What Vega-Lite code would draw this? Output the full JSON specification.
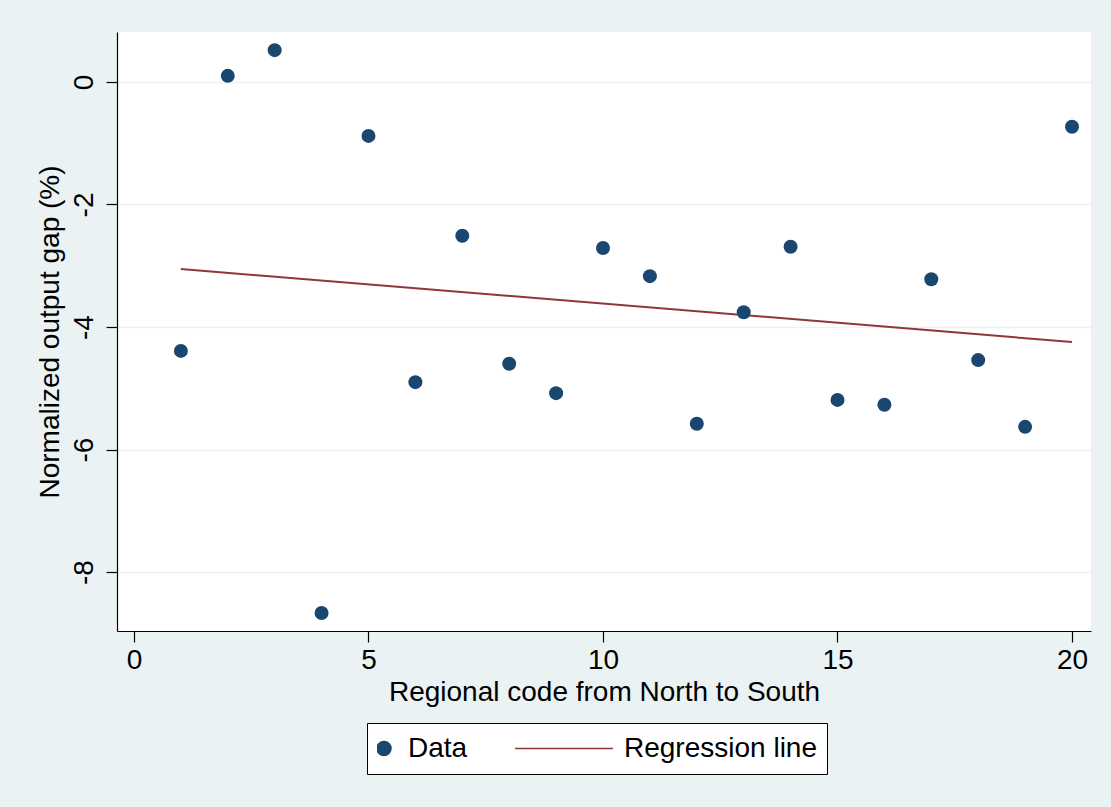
{
  "$schema": "https://vega.github.io/schema/vega-lite/v6.json",
  "width": 974,
  "height": 599,
  "autosize": {"type": "none"},
  "padding": {"left": 117, "top": 32, "right": 20, "bottom": 176},
  "background": "#EAF2F3",
  "config": {
    "view": {"fill": "white", "stroke": null},
    "font": "Liberation Sans",
    "axis": {
      "domainColor": "black",
      "domainWidth": 1.2,
      "tickColor": "black",
      "tickWidth": 1.2,
      "tickSize": 11,
      "labelFont": "Liberation Sans",
      "labelFontSize": 28,
      "labelColor": "black",
      "titleFont": "Liberation Sans",
      "titleFontSize": 28,
      "titleFontWeight": "normal",
      "titleColor": "black"
    }
  },
  "datasets": {
    "pts": [
      {"region": 1, "gap": -4.39, "series": "Data"},
      {"region": 2, "gap": 0.10, "series": "Data"},
      {"region": 3, "gap": 0.52, "series": "Data"},
      {"region": 4, "gap": -8.67, "series": "Data"},
      {"region": 5, "gap": -0.88, "series": "Data"},
      {"region": 6, "gap": -4.90, "series": "Data"},
      {"region": 7, "gap": -2.51, "series": "Data"},
      {"region": 8, "gap": -4.60, "series": "Data"},
      {"region": 9, "gap": -5.08, "series": "Data"},
      {"region": 10, "gap": -2.71, "series": "Data"},
      {"region": 11, "gap": -3.17, "series": "Data"},
      {"region": 12, "gap": -5.58, "series": "Data"},
      {"region": 13, "gap": -3.76, "series": "Data"},
      {"region": 14, "gap": -2.69, "series": "Data"},
      {"region": 15, "gap": -5.19, "series": "Data"},
      {"region": 16, "gap": -5.27, "series": "Data"},
      {"region": 17, "gap": -3.22, "series": "Data"},
      {"region": 18, "gap": -4.54, "series": "Data"},
      {"region": 19, "gap": -5.63, "series": "Data"},
      {"region": 20, "gap": -0.73, "series": "Data"}
    ],
    "fit": [
      {"region": 1, "gap": -3.053, "series": "Regression line"},
      {"region": 20, "gap": -4.245, "series": "Regression line"}
    ]
  },
  "layer": [
    {
      "data": {"name": "fit"},
      "mark": {"type": "line", "strokeWidth": 2},
      "encoding": {
        "x": {"field": "region", "type": "quantitative"},
        "y": {"field": "gap", "type": "quantitative"},
        "color": {"field": "series", "type": "nominal"}
      }
    },
    {
      "data": {"name": "pts"},
      "mark": {"type": "point", "filled": true, "opacity": 1},
      "encoding": {
        "x": {
          "field": "region", "type": "quantitative",
          "scale": {"domain": [-0.362, 20.405], "nice": false, "zero": false},
          "axis": {"values": [0, 5, 10, 15, 20], "grid": false, "title": "Regional code from North to South", "labelPadding": 4, "titlePadding": 4}
        },
        "y": {
          "field": "gap", "type": "quantitative",
          "scale": {"domain": [-8.963, 0.816], "nice": false, "zero": false},
          "axis": {"values": [0, -2, -4, -6, -8], "labelExpr": "'' + datum.value", "grid": true, "gridColor": "#EAF2F3", "gridWidth": 1.6, "title": "Normalized output gap (%)", "labelAngle": 270, "labelAlign": "center", "labelBaseline": "alphabetic", "labelPadding": 14, "titlePadding": 6}
        },
        "color": {
          "field": "series", "type": "nominal",
          "scale": {"domain": ["Data", "Regression line"], "range": ["#1A476F", "#90353B"]},
          "legend": {
            "title": null,
            "orient": "none",
            "direction": "horizontal",
            "legendX": 250,
            "legendY": 691,
            "fillColor": "white",
            "strokeColor": "black",
            "padding": 10,
            "clipHeight": 31,
            "symbolOffset": -7,
            "labelFont": "Liberation Sans",
            "labelFontSize": 28,
            "labelColor": "black",
            "labelLimit": 400,
            "labelOffset": 10,
            "columnPadding": 47,
            "encode": {
              "symbols": {"update": {"stroke": {"scale": "color", "field": "value"}, "strokeWidth": {"value": 2}}}
            }
          }
        },
        "shape": {
          "field": "series", "type": "nominal",
          "scale": {"domain": ["Data", "Regression line"], "range": ["circle", "stroke"]},
          "legend": {"title": null}
        },
        "size": {
          "field": "series", "type": "nominal",
          "scale": {"type": "ordinal", "domain": ["Data", "Regression line"], "range": [196, 10816]},
          "legend": {"title": null}
        }
      }
    }
  ]
}
